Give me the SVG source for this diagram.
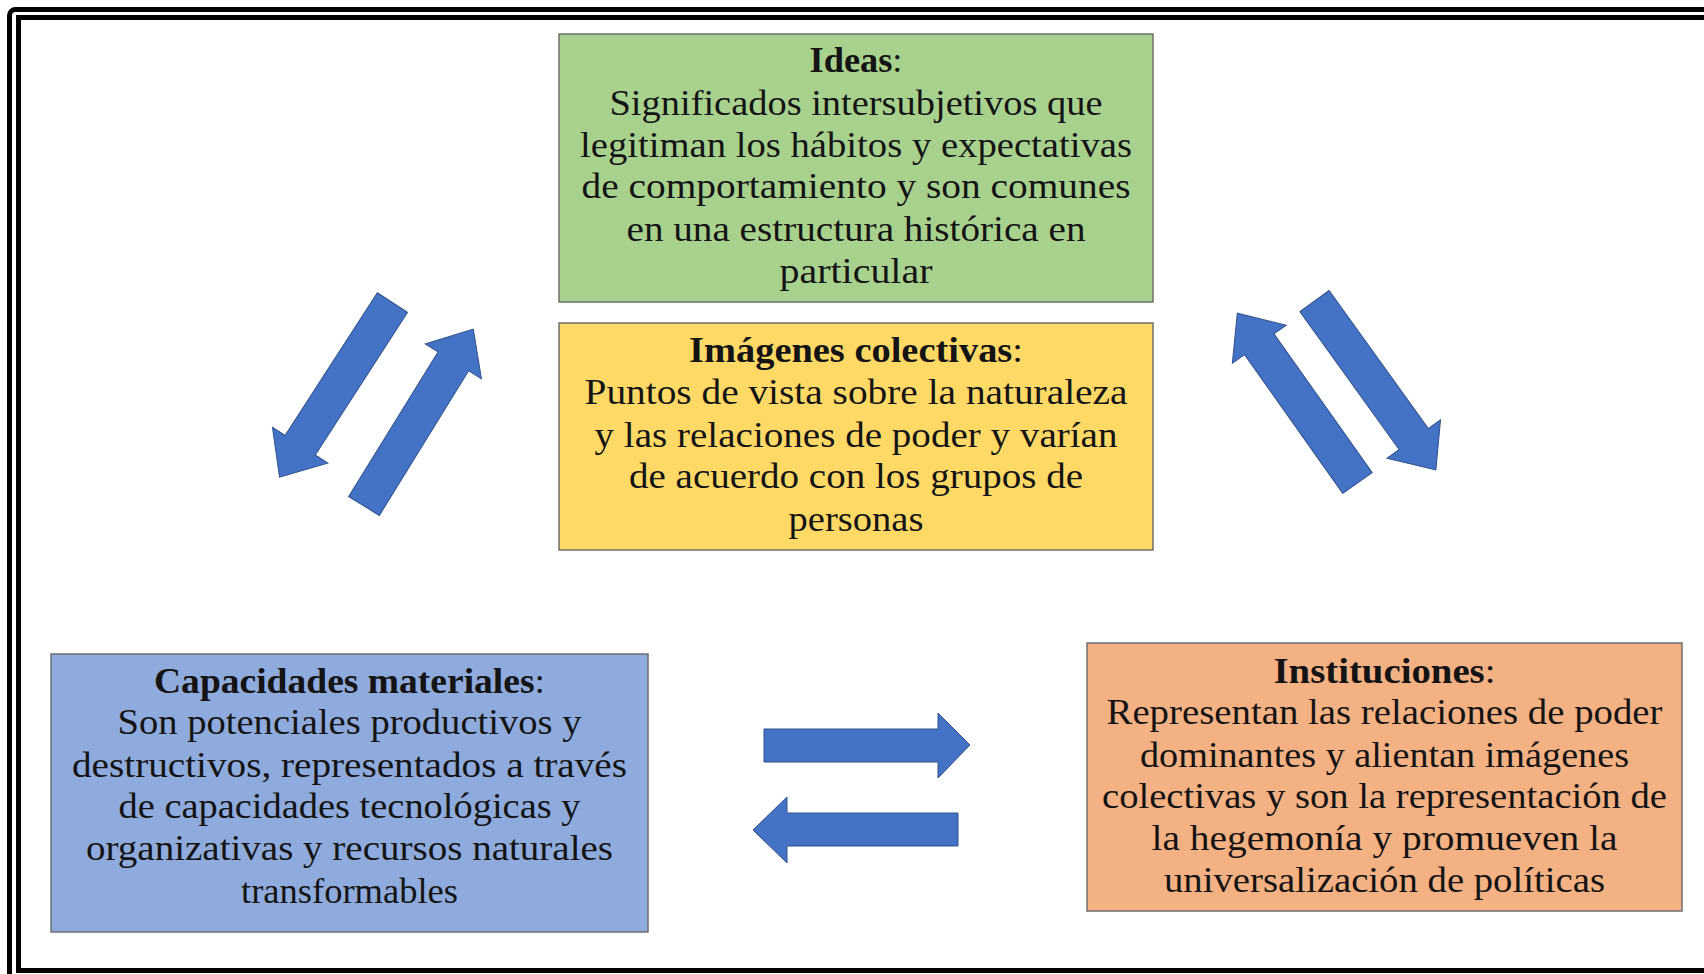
<svg xmlns="http://www.w3.org/2000/svg" width="1704" height="974" viewBox="0 0 1704 974">
<style>
.t{font-family:"Liberation Serif","DejaVu Serif",serif;font-size:35px;fill:#141414;text-anchor:middle}
.b{font-weight:bold}
.box{stroke:#6f6f6f;stroke-width:1.5}
.arr{fill:#4472C4;stroke:#2F528F;stroke-width:1}
</style>
<defs>
<polygon id="diag" points="0,-18 170,-18 170,-33 208,0 170,33 170,18 0,18"/>
</defs>
<rect width="1704" height="974" fill="#ffffff"/>
<rect x="9.5" y="9.5" width="1720" height="990" rx="6" fill="none" stroke="#000" stroke-width="5"/>
<rect x="18.5" y="17.5" width="1710" height="953" fill="none" stroke="#000" stroke-width="5"/>

<g id="ideas">
<rect class="box" x="559" y="34" width="594" height="268" fill="#A9D18E"/>
<text class="t" x="856" y="72" textLength="93" lengthAdjust="spacingAndGlyphs"><tspan class="b">Ideas</tspan>:</text>
<text class="t" x="856" y="115" textLength="493" lengthAdjust="spacingAndGlyphs">Significados intersubjetivos que</text>
<text class="t" x="856" y="157" textLength="552" lengthAdjust="spacingAndGlyphs">legitiman los hábitos y expectativas</text>
<text class="t" x="856" y="198" textLength="549" lengthAdjust="spacingAndGlyphs">de comportamiento y son comunes</text>
<text class="t" x="856" y="241" textLength="459" lengthAdjust="spacingAndGlyphs">en una estructura histórica en</text>
<text class="t" x="856" y="283" textLength="153" lengthAdjust="spacingAndGlyphs">particular</text>
</g>

<g id="imagenes">
<rect class="box" x="559" y="323" width="594" height="227" fill="#FFD966"/>
<text class="t" x="856" y="362" textLength="334" lengthAdjust="spacingAndGlyphs"><tspan class="b">Imágenes colectivas</tspan>:</text>
<text class="t" x="856" y="404" textLength="543" lengthAdjust="spacingAndGlyphs">Puntos de vista sobre la naturaleza</text>
<text class="t" x="856" y="447" textLength="523" lengthAdjust="spacingAndGlyphs">y las relaciones de poder y varían</text>
<text class="t" x="856" y="488" textLength="454" lengthAdjust="spacingAndGlyphs">de acuerdo con los grupos de</text>
<text class="t" x="856" y="531" textLength="135" lengthAdjust="spacingAndGlyphs">personas</text>
</g>

<g id="capacidades">
<rect class="box" x="51" y="654" width="597" height="278" fill="#8FAADC"/>
<text class="t" x="349.5" y="693" textLength="391" lengthAdjust="spacingAndGlyphs"><tspan class="b">Capacidades materiales</tspan>:</text>
<text class="t" x="349.5" y="734" textLength="464" lengthAdjust="spacingAndGlyphs">Son potenciales productivos y</text>
<text class="t" x="349.5" y="777" textLength="555" lengthAdjust="spacingAndGlyphs">destructivos, representados a través</text>
<text class="t" x="349.5" y="818" textLength="462" lengthAdjust="spacingAndGlyphs">de capacidades tecnológicas y</text>
<text class="t" x="349.5" y="860" textLength="527" lengthAdjust="spacingAndGlyphs">organizativas y recursos naturales</text>
<text class="t" x="349.5" y="903" textLength="217" lengthAdjust="spacingAndGlyphs">transformables</text>
</g>

<g id="instituciones">
<rect class="box" x="1087" y="643" width="595" height="268" fill="#F4B183"/>
<text class="t" x="1384.5" y="683" textLength="222" lengthAdjust="spacingAndGlyphs"><tspan class="b">Instituciones</tspan>:</text>
<text class="t" x="1384.5" y="724" textLength="556" lengthAdjust="spacingAndGlyphs">Representan las relaciones de poder</text>
<text class="t" x="1384.5" y="767" textLength="489" lengthAdjust="spacingAndGlyphs">dominantes y alientan imágenes</text>
<text class="t" x="1384.5" y="808" textLength="565" lengthAdjust="spacingAndGlyphs">colectivas y son la representación de</text>
<text class="t" x="1384.5" y="850" textLength="466" lengthAdjust="spacingAndGlyphs">la hegemonía y promueven la</text>
<text class="t" x="1384.5" y="892" textLength="441" lengthAdjust="spacingAndGlyphs">universalización de políticas</text>
</g>

<g id="connectors">
<use href="#diag" class="arr" transform="translate(392.5,302.5) rotate(122.9)"/>
<use href="#diag" class="arr" transform="translate(364,506) rotate(-58.3)"/>
<use href="#diag" class="arr" transform="translate(1357.5,483) rotate(-125.3)"/>
<use href="#diag" class="arr" transform="translate(1314.5,301) rotate(54.3)"/>
<polygon class="arr" points="764,729 938,729 938,713 970,745 938,778 938,762 764,762"/>
<polygon class="arr" points="958,813 787,813 787,797 753,830 787,863 787,846 958,846"/>
</g>
</svg>
